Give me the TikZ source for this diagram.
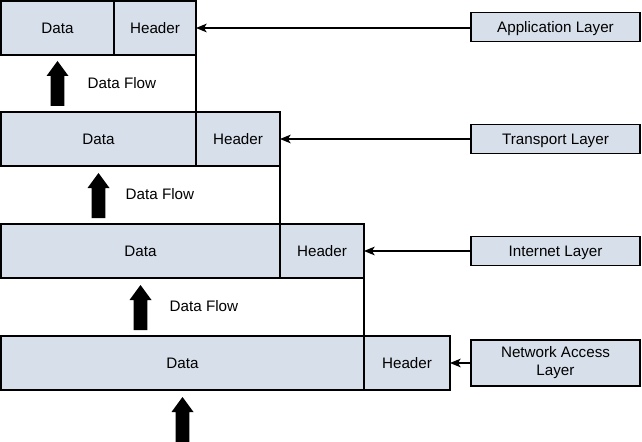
\documentclass[tikz,border=0pt]{standalone}
\usepackage{fontspec}
\setmainfont{Liberation Sans}
\usetikzlibrary{arrows.meta}
\definecolor{boxfill}{RGB}{215,223,234}
\begin{document}
\begin{tikzpicture}[x=0.75pt,y=-0.75pt,
  txt/.style={font=\fontsize{11.4}{13.5}\selectfont},
  cell/.style={txt, draw, fill=boxfill, line width=1.4pt, outer sep=0pt, minimum height=54*0.75pt, inner sep=0pt, anchor=north west},
  layerbox/.style={txt, draw, fill=boxfill, line width=1.4pt, outer sep=0pt, minimum width=169*0.75pt, minimum height=29*0.75pt, inner sep=0pt, anchor=west, align=center},
  oneline/.style={text height=8.2pt, text depth=0pt},
  link/.style={line width=1pt},
  feed/.style={line width=1pt, -{Stealth[length=8pt,width=6.5pt,inset=2pt]}},
  flowup/.pic={\fill (-6.8,45) -- (-6.8,15) -- (-11,15) -- (0,0) -- (11,15) -- (6.8,15) -- (6.8,45) -- cycle;}
]
\useasboundingbox (0,0) rectangle (642,442);

% row 1
\node[cell, minimum width=113*0.75pt] (d1) at (1,1) {Data};
\node[cell, minimum width=82*0.75pt] (h1) at (114,1) {Header};
% row 2
\node[cell, minimum width=195*0.75pt] (d2) at (1,112) {Data};
\node[cell, minimum width=84*0.75pt] (h2) at (196,112) {Header};
% row 3
\node[cell, minimum width=279*0.75pt] (d3) at (1,224) {Data};
\node[cell, minimum width=84*0.75pt] (h3) at (280,224) {Header};
% row 4
\node[cell, minimum width=363*0.75pt] (d4) at (1,336) {Data};
\node[cell, minimum width=86*0.75pt] (h4) at (364,336) {Header};

% vertical links
\draw[link] (h1.south east) -- (h2.north west);
\draw[link] (h2.south east) -- (h3.north west);
\draw[link] (h3.south east) -- (h4.north west);

% layer boxes
\node[layerbox, oneline] (app) at (471,27) {Application Layer};
\node[layerbox, oneline] (tra) at (471,139) {Transport Layer};
\node[layerbox, oneline] (int) at (471,251) {Internet Layer};
\node[layerbox, minimum height=46*0.75pt] (nal) at (471,363) {Network Access\\Layer};

\draw[feed] (app.west |- h1.east) -- (h1.east);
\draw[feed] (tra.west) -- (h2.east);
\draw[feed] (int.west) -- (h3.east);
\draw[feed] (nal.west) -- (h4.east);

% data flow arrows
\pic at (57.5,61) {flowup};
\pic at (98.5,173) {flowup};
\pic at (140.5,285) {flowup};
\pic at (182.5,397) {flowup};

\node[txt, anchor=west] (f1) at (83,83) {Data Flow};
\node[txt, anchor=west] (f2) at (121,194.5) {Data Flow};
\node[txt, anchor=west] (f3) at (165,306) {Data Flow};
\end{tikzpicture}
\end{document}
